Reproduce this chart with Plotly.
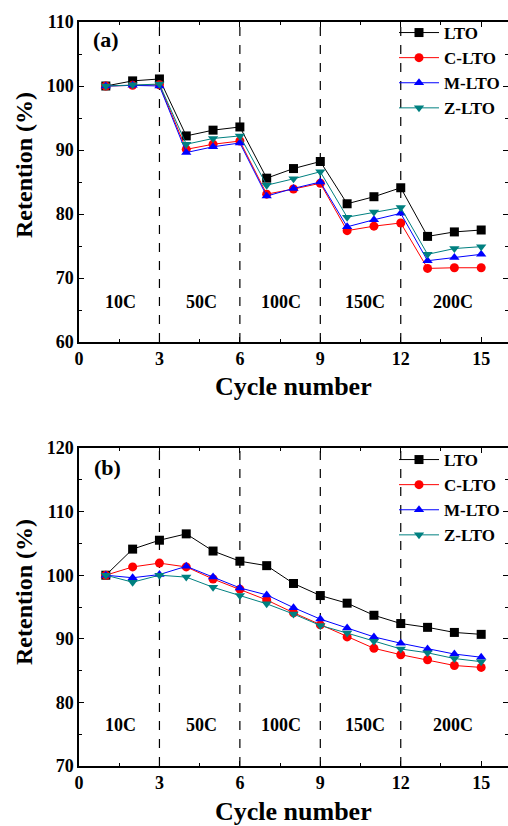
import plotly.graph_objects as go

cycles = list(range(1, 16))
series_names = ["LTO", "C-LTO", "M-LTO", "Z-LTO"]

# Panel (a)
a_LTO = [100.0, 100.8, 101.1, 92.2, 93.1, 93.6, 85.6, 87.1, 88.2, 81.6, 82.7, 84.1, 76.5, 77.2, 77.5]
a_CLTO = [100.0, 100.1, 100.2, 90.1, 90.9, 91.4, 83.1, 83.9, 84.8, 77.4, 78.1, 78.6, 71.5, 71.6, 71.6]
a_MLTO = [100.0, 100.1, 100.0, 89.6, 90.5, 91.1, 82.8, 84.0, 85.0, 78.0, 79.1, 80.1, 72.7, 73.2, 73.7]
a_ZLTO = [100.0, 100.2, 100.3, 90.9, 91.8, 92.2, 84.5, 85.5, 86.6, 79.5, 80.3, 81.0, 73.7, 74.6, 74.9]

# Panel (b)
b_LTO = [100.0, 104.1, 105.5, 106.5, 103.8, 102.2, 101.5, 98.7, 96.8, 95.6, 93.7, 92.4, 91.8, 91.0, 90.7]
b_CLTO = [100.0, 101.3, 101.9, 101.3, 99.4, 97.8, 96.1, 94.1, 92.2, 90.3, 88.5, 87.5, 86.7, 85.8, 85.5]
b_MLTO = [100.0, 99.6, 100.1, 101.4, 99.7, 98.0, 96.9, 94.9, 93.1, 91.7, 90.3, 89.3, 88.4, 87.6, 87.1]
b_ZLTO = [100.0, 98.9, 100.0, 99.7, 98.1, 96.8, 95.5, 93.9, 92.1, 90.9, 89.6, 88.4, 87.8, 86.9, 86.4]

rate_labels = ["10C", "50C", "100C", "150C", "200C"]
rate_x = [1.55, 4.55, 7.55, 10.65, 13.95]
boundaries = [3, 6, 9, 12]
x_ticks = [0, 3, 6, 9, 12, 15]

colors = ["#000000", "#ff0000", "#0000ff", "#008080"]
symbols = ["square", "circle", "triangle-up", "triangle-down"]

FONT = "Liberation Serif"
W, H = 508, 826
ML, MR, MT, MB = 79, 0, 22, 60
PH = H - MT - MB


def py(pix):
    """pixel row -> paper fraction"""
    return (H - MB - pix) / PH


def px(pix):
    return (pix - ML) / (W - ML - MR)


fig = go.Figure()

panels = [
    ([a_LTO, a_CLTO, a_MLTO, a_ZLTO], "x", "y", "legend"),
    ([b_LTO, b_CLTO, b_MLTO, b_ZLTO], "x2", "y2", "legend2"),
]
for data, xa, ya, lg in panels:
    for name, vals, c, s in zip(series_names, data, colors, symbols):
        fig.add_trace(go.Scatter(
            x=cycles, y=vals, name=name, mode="lines+markers",
            line=dict(color=c, width=1),
            marker=dict(symbol=s, size=9, color=c),
            xaxis=xa, yaxis=ya, legend=lg,
        ))

ax_common = dict(
    showline=True, linecolor="black", linewidth=1.5, mirror="allticks",
    ticks="inside", ticklen=5, tickwidth=1.2, tickcolor="black",
    showgrid=False, zeroline=False, automargin=False,
    tickfont=dict(family=FONT, size=18, color="black", weight="bold"),
)
xminor = dict(dtick=1.5, tick0=0, ticks="inside", ticklen=3, tickcolor="black")
yminor = dict(dtick=5, ticks="inside", ticklen=3, tickcolor="black")

legend_common = dict(xanchor="left", yanchor="top", bgcolor="rgba(0,0,0,0)",
                     font=dict(family=FONT, size=17, color="black", weight="bold"),
                     tracegroupgap=0, itemwidth=40)

fig.update_layout(
    width=W, height=H,
    margin=dict(l=ML, r=MR, t=MT, b=MB, autoexpand=False),
    paper_bgcolor="white", plot_bgcolor="white",
    showlegend=True,
    xaxis=dict(domain=[0, 1], range=[0, 16], tickvals=x_ticks, anchor="y", minor=xminor, **ax_common),
    yaxis=dict(domain=[py(342), 1.0], range=[60, 110], dtick=10, anchor="x", minor=yminor, **ax_common),
    xaxis2=dict(domain=[0, 1], range=[0, 16], tickvals=x_ticks, anchor="y2", minor=xminor, **ax_common),
    yaxis2=dict(domain=[0.0, py(448)], range=[70, 120], dtick=10, anchor="x2", minor=yminor, **ax_common),
    legend=dict(x=px(394), y=py(15), **legend_common),
    legend2=dict(x=px(394), y=py(442), **legend_common),
)

for xa, ya in [("x", "y"), ("x2", "y2")]:
    for b in boundaries:
        fig.add_shape(type="line", xref=xa, yref=f"{ya} domain", x0=b, x1=b, y0=0, y1=1,
                      line=dict(color="black", width=1.2, dash="dash"), layer="below")

lab_font = dict(family=FONT, size=18, color="black", weight="bold")
for lab, rx in zip(rate_labels, rate_x):
    fig.add_annotation(x=rx, y=66.3, xref="x", yref="y", text=lab, showarrow=False, font=lab_font)
    fig.add_annotation(x=rx, y=76.4, xref="x2", yref="y2", text=lab, showarrow=False, font=lab_font)

panel_font = dict(family=FONT, size=22, color="black", weight="bold")
fig.add_annotation(x=px(91), y=py(40), xref="paper", yref="paper", text="(a)", showarrow=False,
                   xanchor="left", yanchor="middle", font=panel_font)
fig.add_annotation(x=px(92), y=py(467), xref="paper", yref="paper", text="(b)", showarrow=False,
                   xanchor="left", yanchor="middle", font=panel_font)

ytitle_font = dict(family=FONT, size=24, color="black", weight="bold")
xtitle_font = dict(family=FONT, size=26, color="black", weight="bold")
for ycen in [165, 592]:
    fig.add_annotation(x=px(24), y=py(ycen), xref="paper", yref="paper", text="Retention (%)",
                       textangle=-90, showarrow=False, xanchor="center", yanchor="middle", font=ytitle_font)
for ycen in [386, 811]:
    fig.add_annotation(x=px(293), y=py(ycen), xref="paper", yref="paper", text="Cycle number",
                       showarrow=False, xanchor="center", yanchor="middle", font=xtitle_font)

fig.write_html(
    "out.html",
    config={"displayModeBar": False},
    post_script="document.body.style.margin='0px';document.body.style.overflow='hidden';",
)
